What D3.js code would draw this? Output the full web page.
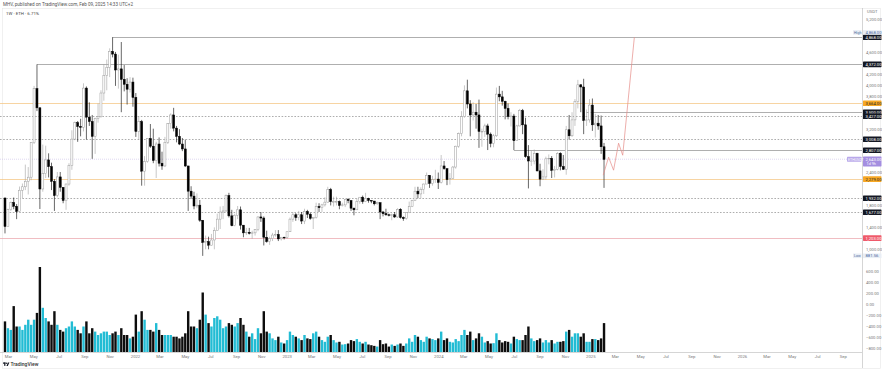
<!DOCTYPE html>
<html>
<head>
<meta charset="utf-8">
<script src="https://cdn.jsdelivr.net/npm/d3@7"></script>
<style>
    html, body { margin: 0; padding: 0; background: #fff; }
    svg { display: block; font-family: Roboto, "Liberation Sans", sans-serif; }
</style>
</head>
<body>
<svg id="chart" width="882" height="370"></svg>
<script>
// ETH / USDT weekly candles, Feb 2021 - Feb 2025
const firstWeek = new Date(2021, 1, 22);
const firstOpen = 1935;

const closes = [
    // 2021
    1416,1723,1855,1785,1690,2077,2140,2240,2315,2945,3930,3580,2100,2380,2630,2507,2240,1980,2320,2130,1890,2190,2530,
    3010,3310,3240,3225,3940,3410,3330,3060,3390,3420,3850,4170,4320,4610,4560,4270,4290,4100,4010,3920,4050,3770,
    // 2022
    3150,3330,2425,2600,3020,2880,2620,2920,2570,2520,2950,3290,3450,3210,3060,2920,2830,2520,2060,1970,1790,1805,1530,1125,1140,1075,
    1170,1340,1550,1680,1700,1980,1610,1430,1620,1720,1440,1300,1310,1290,1300,1360,1590,1570,1220,1140,1195,1260,1270,1190,1220,1215,
    // 2023
    1320,1550,1630,1580,1630,1515,1690,1640,1565,1580,1780,1760,1810,1860,2090,1870,1870,1870,1800,1810,1910,1890,1750,1720,1870,1950,
    1870,1930,1890,1880,1830,1850,1680,1650,1630,1620,1630,1590,1730,1580,1560,1670,1780,1890,2060,2010,2090,2190,2350,2200,2270,2280,
    // 2024
    2220,2520,2470,2270,2290,2500,2880,3110,3420,3890,3650,3450,3500,3450,3150,3150,3250,3100,2930,3070,3830,3780,3700,3570,3420,3430,
    2980,3250,3530,3270,2690,2610,2610,2750,2430,2280,2320,2650,2660,2440,2460,2750,2510,2460,3180,3070,3360,3700,4000,3960,3350,3360,3630,
    // 2025
    3270,3300,3250,2870,2640
];

const highs = [
    1945,1740,1870,1944,1825,2145,2200,2545,2500,2950,3980,4372,3590,2910,2890,2750,2580,2280,2410,2410,2130,2200,2570,
    3170,3330,3340,3380,4027,3970,3680,3450,3400,3660,3900,4380,4460,4665,4868,4600,4550,4780,4360,4120,4140,4130,
    3850,3420,3360,2700,3030,3285,3200,2960,3040,2780,3050,3300,3480,3580,3250,3190,3030,3000,2520,2150,2050,2020,1900,1530,1250,1230,
    1280,1400,1650,1780,1790,2000,2030,1720,1650,1790,1780,1440,1390,1390,1340,1370,1600,1680,1600,1340,1230,1300,1350,1350,1225,1230,
    1325,1580,1680,1660,1700,1680,1740,1720,1670,1590,1850,1840,1830,1950,2140,2120,1960,1960,1890,1850,1920,1930,1890,1760,1930,1950,
    1980,2030,1940,1890,1880,1870,1850,1700,1740,1650,1650,1680,1750,1750,1600,1680,1870,1900,2140,2140,2130,2200,2400,2350,2340,2450,
    2400,2720,2610,2470,2390,2520,2890,3130,3520,3990,4093,3720,3680,3650,3730,3200,3290,3290,3130,3100,3950,3980,3890,3710,3660,3500,
    3470,3270,3560,3560,3400,2900,2800,2820,2760,2560,2460,2690,2730,2700,2520,2770,2770,2720,3250,3450,3500,3740,4090,4010,4110,3550,3740,
    3750,3470,3450,3440,2940
];

const lows = [
    1290,1440,1700,1730,1550,1680,1930,2080,2000,2260,2920,3520,1735,2050,2300,2310,2080,1700,1950,2050,1840,1720,2160,
    2450,2990,2960,3060,3150,3000,3250,2650,2740,3310,3400,3710,3900,4140,4500,3980,3930,3500,3880,3640,3860,3600,
    3050,3000,2160,2160,2580,2850,2570,2300,2510,2450,2500,2920,3200,3150,2950,2900,2790,2500,1700,1920,1730,1750,1500,880,1000,1000,
    1070,1000,1340,1370,1550,1680,1580,1420,1420,1550,1360,1220,1260,1270,1190,1250,1330,1500,1070,1120,1080,1150,1230,1150,1160,1180,
    1190,1320,1500,1520,1530,1460,1460,1570,1540,1370,1560,1680,1680,1780,1850,1800,1780,1800,1730,1780,1770,1840,1700,1620,1720,1830,
    1830,1860,1850,1840,1800,1810,1550,1600,1610,1600,1530,1570,1570,1560,1520,1540,1660,1770,1880,1930,1930,2010,2190,2120,2160,2210,
    2100,2200,2450,2170,2180,2280,2470,2850,3060,3400,3570,3060,3350,3200,2850,2870,3050,2810,2860,2860,3050,3700,3620,3370,3370,3240,
    2810,2980,3240,3100,2670,2110,2520,2550,2420,2150,2270,2270,2550,2300,2310,2440,2440,2450,2360,3000,3050,3250,3570,3500,3100,3250,3310,
    3160,3040,3180,2740,2120
];

// weekly volume, million ETH
const volumes = [
    9,7,6.5,13.5,7.5,7.5,6.5,8,9.5,8,9.5,11.5,25,13,10,9,8,12,8,6.5,6,7,7.5,
    9,7.5,6.5,5.5,7.5,9,5.5,7,6,5,5.5,6,6,5,5.5,6,5,7,5,5,4,4.5,
    11,6,12,9.5,6.5,6.5,6,8.5,6.5,5,5,5,5,4.5,4.5,4,4.5,5.5,12,7.5,7.5,7,9.5,17.5,11,8.5,
    7.5,10,10.5,9.5,7,7.5,8.5,8,7.5,8.5,10,8,6,4.5,5.5,3.8,7,5.5,12,6,5.5,4,3.5,4.5,2.8,2.5,
    3.5,6,5,4.5,4,3.5,5,4,3.8,5.5,6,4.5,3.5,3,4.5,5,3.5,2.8,3,2.2,2.3,2.5,3.5,3.2,3.8,3,
    2.5,3,2.2,2,1.8,1.6,3.5,2.3,2.5,1.6,2.2,1.8,2.2,2.5,1.8,2.5,4,3,5,4.5,3.5,3,4.5,4,3.8,3.5,
    4,6,3.5,4,3,2.8,3.8,3.2,5,6.5,5,6,3.5,4,5.5,4.5,2.8,3.2,2.5,2.6,5.5,3.5,2.8,3.2,3,2.5,
    4.5,3.8,3.5,3.5,5,7.5,4,3.2,3.5,4,2.8,3.5,2.8,3.5,2.5,3,3,3.2,6,6.5,4.5,5.5,5.5,4.5,5.5,3,3,
    3.8,3.8,3.5,4,8.5
];

// horizontal levels drawn on the chart
const levelPrices = [4868, 4372, 3664, 3500, 3427, 3008, 2807, 2279, 1932, 1677, 1203];
const levelKinds  = ["solid","solid","orange","solid","dashed","dashed","solid","orange","dashed","dashed","red"];
const levelStarts = ["2021-11-08","2021-05-10",null,"2024-12-23",null,null,"2024-07-01",null,null,null,null];

const lastPrice = 2643;
const allTimeHigh = 4868;
const periodLow = 881.56;

// projected path
const projDates  = ["2025-02-01","2025-02-14","2025-02-26","2025-03-10","2025-03-20","2025-04-17"];
const projPrices = [2352, 2680, 2443, 2935, 2716, 4868];

// ---------------------------------------------------------------
const W = 882, H = 370;
const paneRight = 862, paneTop = 8, paneBottom = 352;
const parse = d3.timeParse("%Y-%m-%d");
const fmt = d3.format(",.2f");

const weeks = d3.timeMonday.range(firstWeek, d3.timeWeek.offset(firstWeek, closes.length));
const candles = closes.map((c, i) => {
    const o = i === 0 ? firstOpen : closes[i - 1];
    return {date: weeks[i], open: o, close: c, high: highs[i], low: lows[i], vol: volumes[i]};
});

const x = d3.scaleTime()
    .domain([new Date(2021, 1, 10), new Date(2026, 9, 17)])
    .range([0, paneRight]);
const y = d3.scaleLinear().domain([-800, 5200]).range([348, 19]);
const yVol = d3.scaleLinear().domain([0, 25]).range([paneBottom, 267]);

const svg = d3.select("#chart");

svg.append("defs").append("clipPath").attr("id", "pane")
    .append("rect").attr("x", 0).attr("y", paneTop).attr("width", paneRight).attr("height", paneBottom - paneTop);

// frame + header
svg.append("rect").attr("x", 2.5).attr("y", 8.5).attr("width", W - 4).attr("height", H - 10)
    .attr("fill", "none").attr("stroke", "#e6e6e6").attr("stroke-width", 0.6);
svg.append("text").attr("x", 3).attr("y", 5.5).attr("font-size", 4.6).attr("fill", "#555")
    .text("MHV, published on TradingView.com, Feb 09, 2025 14:33 UTC+2");
svg.append("text").attr("x", 6).attr("y", 14.5).attr("font-size", 4.4).attr("fill", "#444")
    .text("1W · ETH · 6.71%");

const pane = svg.append("g").attr("clip-path", "url(#pane)");

// volume bars
pane.append("g").selectAll("rect").data(candles).join("rect")
    .attr("x", d => x(d.date) - 1.2)
    .attr("width", 2.4)
    .attr("y", d => yVol(d.vol))
    .attr("height", d => yVol(0) - yVol(d.vol))
    .attr("fill", d => d.close >= d.open ? "#22bcd4" : "#0d0d0d");

// level lines
const levelColor = {solid: "#9a9a9a", dashed: "#8a8a8a", orange: "#f3c27a", red: "#e9a0a8"};
levelPrices.forEach((p, i) => {
    const kind = levelKinds[i];
    const x0 = levelStarts[i] ? x(parse(levelStarts[i])) : 0;
    pane.append("line")
        .attr("x1", x0).attr("x2", paneRight)
        .attr("y1", Math.round(y(p)) + 0.5).attr("y2", Math.round(y(p)) + 0.5)
        .attr("stroke", levelColor[kind])
        .attr("stroke-width", kind === "solid" ? 0.8 : 0.7)
        .attr("stroke-dasharray", kind === "dashed" ? "1.6,1.6" : null);
});

// last price line
pane.append("line")
    .attr("x1", 0).attr("x2", paneRight)
    .attr("y1", y(lastPrice)).attr("y2", y(lastPrice))
    .attr("stroke", "#c9bce8").attr("stroke-width", 0.6).attr("stroke-dasharray", "1,1");

// candles
const cg = pane.append("g");
const isUp = d => d.close >= d.open;
cg.selectAll("line").data(candles).join("line")
    .attr("x1", d => x(d.date)).attr("x2", d => x(d.date))
    .attr("y1", d => y(Math.max(d.high, d.open, d.close)))
    .attr("y2", d => y(Math.min(d.low, d.open, d.close)))
    .attr("stroke", d => isUp(d) ? "#a3a3a3" : "#000")
    .attr("stroke-width", 0.6);
cg.selectAll("rect").data(candles).join("rect")
    .attr("x", d => x(d.date) - 1)
    .attr("width", 2)
    .attr("y", d => y(Math.max(d.open, d.close)))
    .attr("height", d => Math.max(0.6, Math.abs(y(d.open) - y(d.close))))
    .attr("fill", d => isUp(d) ? "#fff" : "#000")
    .attr("stroke", d => isUp(d) ? "#9c9c9c" : "#000")
    .attr("stroke-width", 0.5);

// projection
const proj = projDates.map((d, i) => [parse(d), projPrices[i]]);
pane.append("path")
    .attr("d", d3.line().x(d => x(d[0])).y(d => y(d[1]))(proj))
    .attr("fill", "none").attr("stroke", "#e58b87").attr("stroke-width", 0.7);

// axes lines
svg.append("line").attr("x1", paneRight + 0.5).attr("x2", paneRight + 0.5).attr("y1", paneTop).attr("y2", H - 2)
    .attr("stroke", "#b8b8b8").attr("stroke-width", 0.6);
svg.append("line").attr("x1", 0).attr("x2", paneRight).attr("y1", paneBottom + 0.5).attr("y2", paneBottom + 0.5)
    .attr("stroke", "#b8b8b8").attr("stroke-width", 0.6);

// tags on the price scale
const tagFill = {solid: "#131722", dashed: "#131722", orange: "#f7a825", red: "#ef5a6a"};
const highY = y(allTimeHigh) - 4.8;
const tagYs = levelPrices.map(p => y(p)).concat([y(lastPrice), y(lastPrice) + 4, highY, y(periodLow)]);

// price axis
const yAxis = svg.append("g")
    .attr("transform", `translate(${paneRight},0)`)
    .call(d3.axisRight(y).tickValues(d3.range(-800, 5201, 200)).tickSize(0).tickPadding(4).tickFormat(fmt));
yAxis.select(".domain").remove();
yAxis.selectAll("text").attr("font-size", 4.2).attr("fill", "#777").attr("font-family", "Roboto, sans-serif");
yAxis.selectAll(".tick").filter(d => tagYs.some(t => Math.abs(t - y(d)) < 5)).remove();

svg.append("text").attr("x", 867).attr("y", 12.5).attr("font-size", 4.2).attr("fill", "#777").text("USDT");

const tags = svg.append("g");
function tag(yy, label, fill, color) {
    tags.append("rect").attr("x", paneRight + 1).attr("y", yy - 2.8).attr("width", 18.5).attr("height", 5.6)
        .attr("rx", 0.6).attr("fill", fill);
    tags.append("text").attr("x", paneRight + 3.5).attr("y", yy + 1.5).attr("font-size", 4.2)
        .attr("fill", color).text(label);
}
levelPrices.forEach((p, i) => {
    const k = levelKinds[i];
    tag(y(p), fmt(p), tagFill[k], k === "orange" ? "#222" : "#fff");
});

// last price tag (two lines) and symbol pill
const ly = y(lastPrice);
tags.append("rect").attr("x", paneRight + 1).attr("y", ly - 2.8).attr("width", 18.5).attr("height", 10)
    .attr("rx", 0.6).attr("fill", "#a48ee0");
tags.append("text").attr("x", paneRight + 3.5).attr("y", ly + 1.5).attr("font-size", 4.2).attr("fill", "#fff").text(fmt(lastPrice));
tags.append("text").attr("x", paneRight + 4.5).attr("y", ly + 6).attr("font-size", 3.8).attr("fill", "#fff").text("1d 9h");
tags.append("rect").attr("x", 847).attr("y", ly - 2.5).attr("width", 14.5).attr("height", 5)
    .attr("rx", 0.6).attr("fill", "#b9a8ea");
tags.append("text").attr("x", 848).attr("y", ly + 1.3).attr("font-size", 3.6).attr("fill", "#fff").text("ETHUSDT");

// High / Low markers
[[highY, "High", allTimeHigh], [y(periodLow), "Low", periodLow]].forEach(([yy, name, v]) => {
    tags.append("rect").attr("x", 853).attr("y", yy - 2.3).attr("width", 8.5).attr("height", 4.6)
        .attr("fill", "#e9eef5");
    tags.append("text").attr("x", 854).attr("y", yy + 1.3).attr("font-size", 3.6).attr("fill", "#4a6aa0").text(name);
    tags.append("rect").attr("x", paneRight + 1).attr("y", yy - 2.3).attr("width", 18.5).attr("height", 4.6)
        .attr("fill", "#e9eef5");
    tags.append("text").attr("x", paneRight + 3.5).attr("y", yy + 1.4).attr("font-size", 4.2).attr("fill", "#4a6aa0").text(fmt(v));
});

// time axis
const xAxis = svg.append("g")
    .attr("transform", `translate(0,${paneBottom})`)
    .call(d3.axisBottom(x).ticks(d3.timeMonth.every(2)).tickSize(0).tickPadding(3)
        .tickFormat(d => d.getMonth() === 0 ? d3.timeFormat("%Y")(d) : d3.timeFormat("%b")(d)));
xAxis.select(".domain").remove();
xAxis.selectAll("text").attr("font-size", 4.2).attr("fill", "#777").attr("font-family", "Roboto, sans-serif");

// TradingView logo
const logo = svg.append("g").attr("transform", "translate(3,362.5)");
logo.append("rect").attr("x", 0).attr("y", 0).attr("width", 2.6).attr("height", 1.2).attr("fill", "#131722");
logo.append("rect").attr("x", 1.2).attr("y", 0).attr("width", 1.2).attr("height", 3.4).attr("fill", "#131722");
logo.append("circle").attr("cx", 3.7).attr("cy", 0.7).attr("r", 0.7).attr("fill", "#131722");
logo.append("path").attr("d", "M3.4,3.4 L5,0 L6.4,0 L4.8,3.4 Z").attr("fill", "#131722");
svg.append("text").attr("x", 10.5).attr("y", 366).attr("font-size", 5).attr("fill", "#333")
    .attr("font-weight", 500).text("TradingView");
</script>
</body>
</html>
